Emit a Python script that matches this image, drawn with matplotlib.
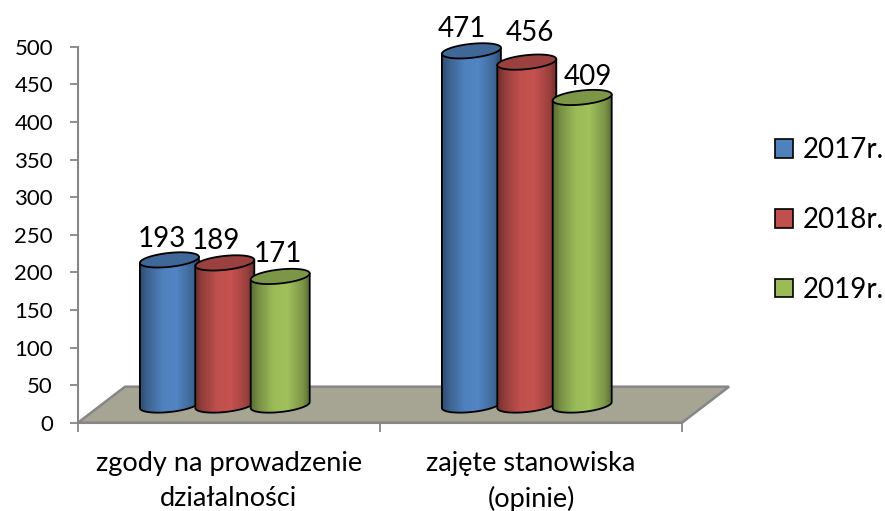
import numpy as np
import matplotlib
matplotlib.use("Agg")
import matplotlib.pyplot as plt
from matplotlib.colors import LinearSegmentedColormap, to_rgb
from matplotlib.patches import Patch, Polygon

categories = ["zgody na prowadzenie\ndziałalności", "zajęte stanowiska\n(opinie)"]
series_names = ["2017r.", "2018r.", "2019r."]
values_2017 = [193, 471]
values_2018 = [189, 456]
values_2019 = [171, 409]
colors = ["#4F81BD", "#C0504D", "#9BBB59"]
yticks = list(range(0, 501, 50))

# label offsets from the top of each cylinder, in pixels (hand-moved in the original)
label_dx = [[-8, -10], [-8.5, 3], [-2.5, 5.5]]
label_dy = [[13, 14], [14, 21], [14.5, 12]]

plt.rcParams["font.family"] = ["Lato", "DejaVu Sans"]
W, H = 885, 511
L, R, T, B = 78, 682, 46.7, 422.7
fig = plt.figure(figsize=(W / 100, H / 100), dpi=100)
ax = fig.add_axes([L / W, 1 - B / H, (R - L) / W, (B - T) / H])
px = 2 / (R - L)      # data units per pixel, x
py = 500 / (B - T)    # data units per pixel, y

GREY = "#868686"
FLOOR_DX, FLOOR_DY = 47 * px, 36 * py
DEPTH = 23.5
A, Bm, S = 29.5 * px, 7 * py, 3 * py     # ellipse half-axes and tilt
STEP = 55.4 * px
GROUP_SHIFT = -4.2 * px

floor = Polygon([(0, 0), (FLOOR_DX, FLOOR_DY), (2 + FLOOR_DX, FLOOR_DY), (2, 0)],
                closed=True, facecolor="#A6A493", edgecolor=GREY, lw=1.8,
                joinstyle="miter", clip_on=False, zorder=1)
ax.add_patch(floor)


def shade(c, f):
    return tuple(min(1, v * f) for v in to_rgb(c))


z = 2
t_low = np.linspace(np.pi, 2 * np.pi, 60)
t_all = np.linspace(0, 2 * np.pi, 120)
series = [values_2017, values_2018, values_2019]
for s, (vals, col) in enumerate(zip(series, colors)):
    cmap = LinearSegmentedColormap.from_list(
        "c", [(0, shade(col, .58)), (.12, shade(col, .76)), (.38, shade(col, 1.0)),
              (.62, shade(col, 1.03)), (.88, shade(col, .8)), (1, shade(col, .58))])
    for c, v in enumerate(vals):
        cx = c + 0.5 + GROUP_SHIFT + (s - 1) * STEP
        top = v + DEPTH
        bx = cx + A * np.cos(t_low)
        by = DEPTH + Bm * np.sin(t_low) + S * np.cos(t_low)
        xs = np.r_[cx - A, bx, cx + A]
        ys = np.r_[top - S, by, top + S]
        body = Polygon(np.c_[xs, ys], closed=True, facecolor="none", edgecolor="black",
                       lw=1.3, zorder=z + 1, joinstyle="round", clip_on=False)
        ax.add_patch(body)
        im = ax.imshow(np.linspace(0, 1, 128)[None, :], cmap=cmap, aspect="auto",
                       extent=(cx - A, cx + A, 0, top + 10), zorder=z)
        im.set_clip_path(Polygon(np.c_[xs, ys], closed=True, transform=ax.transData))
        ex = cx + A * np.cos(t_all)
        ey = top + Bm * np.sin(t_all) + S * np.cos(t_all)
        ax.add_patch(Polygon(np.c_[ex, ey], closed=True, facecolor=shade(col, .8),
                             edgecolor="black", lw=1.3, zorder=z + 1.5, clip_on=False))
        ax.annotate(str(v), (cx, top), xytext=(label_dx[s][c] * .72, label_dy[s][c] * .72),
                    textcoords="offset points", ha="center", va="baseline",
                    fontsize=20, color="black", zorder=200, annotation_clip=False)
        z += 2

ax.set_xlim(0, 2)
ax.set_ylim(0, 500)
ax.patch.set_alpha(0)
for sp in ("top", "right"):
    ax.spines[sp].set_visible(False)
for sp in ("left", "bottom"):
    ax.spines[sp].set_color(GREY)
    ax.spines[sp].set_linewidth(1.5)
    ax.spines[sp].set_zorder(1.5)

ax.set_yticks(yticks)
ax.tick_params(axis="y", length=6, width=1.3, color=GREY, labelsize=16, pad=12)
ax.set_xticks([0, 1, 2])
ax.set_xticklabels([])
ax.tick_params(axis="x", which="major", length=6.5, width=1.3, color=GREY)
ax.set_xticks([0.5, 1.5], minor=True)
ax.set_xticklabels(categories, minor=True, fontsize=19.5, linespacing=1.47)
ax.tick_params(axis="x", which="minor", length=0, pad=20.5)

handles = [Patch(facecolor=c, edgecolor="black", lw=1.2) for c in colors]
leg = fig.legend(handles, series_names, loc="center left",
                 bbox_to_anchor=(767 / W, 1 - 220 / H), frameon=False,
                 fontsize=20, handlelength=0.65, handleheight=0.65, handletextpad=0.32,
                 labelspacing=1.58, borderpad=0, borderaxespad=0.3)

fig.savefig("out.png", dpi=100)
